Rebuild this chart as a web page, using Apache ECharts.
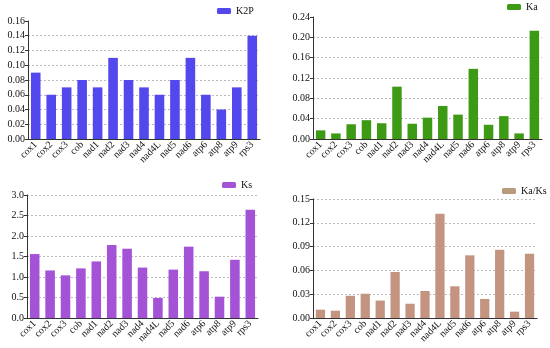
<!DOCTYPE html>
<html><head><meta charset="utf-8">
<script src="https://cdn.jsdelivr.net/npm/echarts@6/dist/echarts.min.js"></script>
<style>html,body{margin:0;padding:0;background:#fff}#c{width:550px;height:348px}</style>
</head><body><div id="c"></div>
<script>
var genes = ['cox1','cox2','cox3','cob','nad1','nad2','nad3','nad4','nad4L','nad5','nad6','atp6','atp8','atp9','rps3'];
var k2p  = [0.09,0.06,0.07,0.08,0.07,0.11,0.08,0.07,0.06,0.08,0.11,0.06,0.04,0.07,0.14];
var ka   = [0.017,0.011,0.029,0.037,0.031,0.103,0.030,0.042,0.065,0.048,0.138,0.028,0.045,0.011,0.213];
var ks   = [1.56,1.16,1.04,1.21,1.38,1.78,1.69,1.23,0.49,1.18,1.74,1.14,0.52,1.42,2.64];
var kaks = [0.0105,0.0092,0.028,0.0306,0.022,0.058,0.018,0.034,0.1315,0.040,0.079,0.024,0.086,0.008,0.081];

var FONT = '"Liberation Serif","Times New Roman",serif';
var panels = [
  {name:'K2P',  data:k2p,  color:'#5347ee', max:0.16, step:0.02, dec:2,
   grid:{left:28, top:21, width:232, height:118}, leg:{left:217, top:6}, legColor:'#5347ee'},
  {name:'Ka',   data:ka,   color:'#3d9a14', max:0.24, step:0.04, dec:2,
   grid:{left:313, top:17, width:229, height:122}, leg:{left:507, top:2}, legColor:'#3d9a14'},
  {name:'Ks',   data:ks,   color:'#a452d6', max:3.0,  step:0.5,  dec:1,
   grid:{left:27, top:195, width:231, height:123}, leg:{left:222, top:180}, legColor:'#a452d6'},
  {name:'Ka/Ks',data:kaks, color:'#c39580', max:0.15, step:0.03, dec:2,
   grid:{left:313, top:199, width:224, height:119}, leg:{left:502, top:186}, legColor:'#b89a7c'}
];

var option = {animation:false, grid:[], xAxis:[], yAxis:[], series:[], legend:[]};
panels.forEach(function(p, i){
  option.grid.push(Object.assign({containLabel:false}, p.grid));
  option.xAxis.push({
    type:'category', gridIndex:i, data:genes,
    axisLine:{lineStyle:{color:'#333', width:1}},
    axisTick:{show:false},
    axisLabel:{rotate:45, fontFamily:FONT, fontSize:10, color:'#111', interval:0, margin:4}
  });
  option.yAxis.push({
    type:'value', gridIndex:i, min:0, max:p.max, interval:p.step,
    axisLine:{show:true, lineStyle:{color:'#333', width:1}},
    axisTick:{show:true, length:3, lineStyle:{color:'#333'}},
    axisLabel:{fontFamily:FONT, fontSize:10, color:'#111', margin:3,
      formatter:(function(d){return function(v){return v.toFixed(d);};})(p.dec)},
    splitLine:{show:true, showMaxLine:(i>=2), lineStyle:{color:'#bbb', type:[2,2], width:1}}
  });
  option.series.push({
    type:'bar', name:p.name, xAxisIndex:i, yAxisIndex:i, data:p.data,
    barWidth:'62%', itemStyle:{color:p.color}
  });
  option.legend.push({
    left:p.leg.left, top:p.leg.top, padding:0, itemWidth:14, itemHeight:6, itemGap:5,
    data:[{name:p.name, itemStyle:{color:p.legColor}}],
    textStyle:{fontFamily:FONT, fontSize:10, color:'#111'},
    selectedMode:false
  });
});
echarts.init(document.getElementById('c')).setOption(option);
</script></body></html>
